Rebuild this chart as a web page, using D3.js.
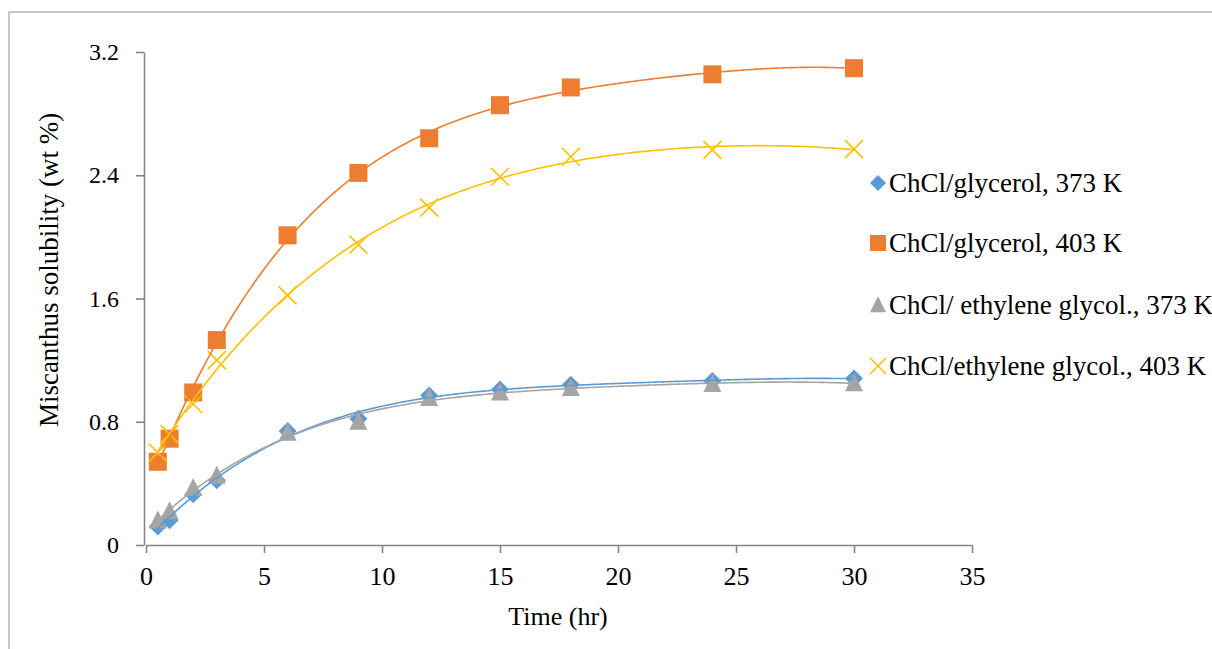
<!DOCTYPE html>
<html>
<head>
<meta charset="utf-8">
<script src="https://cdn.jsdelivr.net/npm/d3@7"></script>
<style>
  body { margin: 0; background: #fff; }
</style>
</head>
<body>
<div id="chart"></div>
<script>
// sampling times (hr)
const times = [0.5, 1, 2, 3, 6, 9, 12, 15, 18, 24, 30];

// solubility (wt %)
const glycerol373 = [0.12, 0.16, 0.33, 0.42, 0.74, 0.82, 0.97, 1.01, 1.04, 1.065, 1.08];
const glycerol403 = [0.54, 0.69, 0.99, 1.33, 2.01, 2.415, 2.64, 2.855, 2.97, 3.055, 3.095];
const ethylene373 = [0.16, 0.22, 0.37, 0.45, 0.73, 0.80, 0.955, 0.99, 1.02, 1.045, 1.05];
const ethylene403 = [0.60, 0.72, 0.915, 1.20, 1.62, 1.95, 2.19, 2.39, 2.52, 2.565, 2.57];

const seriesNames = [
  "ChCl/glycerol, 373 K",
  "ChCl/glycerol, 403 K",
  "ChCl/ ethylene glycol., 373 K",
  "ChCl/ethylene glycol., 403 K"
];
const xTicks = [0, 5, 10, 15, 20, 25, 30, 35];
const yTicks = [0, 0.8, 1.6, 2.4, 3.2];

const series = [
  {name: seriesNames[0], values: glycerol373, color: "#5B9BD5", shape: "diamond"},
  {name: seriesNames[1], values: glycerol403, color: "#ED7D31", shape: "square"},
  {name: seriesNames[2], values: ethylene373, color: "#A5A5A5", shape: "triangle"},
  {name: seriesNames[3], values: ethylene403, color: "#FFC000", shape: "cross"}
];

const width = 1212;
const height = 649;
const serif = "'Liberation Serif', 'Times New Roman', serif";

const svg = d3.select("#chart")
  .append("svg")
  .attr("width", width)
  .attr("height", height)
  .attr("font-family", serif);

// outer frame (right/bottom edges fall outside the picture)
svg.append("rect")
  .attr("x", 9).attr("y", 12)
  .attr("width", 1240).attr("height", 700)
  .attr("fill", "none")
  .attr("stroke", "#ababab")
  .attr("stroke-width", 1.3);

const x = d3.scaleLinear().domain([0, 35]).range([146, 972]);
const y = d3.scaleLinear().domain([0, 3.2]).range([545, 52]);

// polynomial trendline, least squares like Excel does
function polyfit(xs, ys, order) {
  const n = order + 1;
  const A = [];
  for (let i = 0; i < n; i++) {
    A.push(new Array(n + 1).fill(0));
  }
  xs.forEach((xv, k) => {
    for (let i = 0; i < n; i++) {
      for (let j = 0; j < n; j++) A[i][j] += Math.pow(xv, i + j);
      A[i][n] += ys[k] * Math.pow(xv, i);
    }
  });
  for (let c = 0; c < n; c++) {
    let p = c;
    for (let r = c + 1; r < n; r++) if (Math.abs(A[r][c]) > Math.abs(A[p][c])) p = r;
    [A[c], A[p]] = [A[p], A[c]];
    for (let r = 0; r < n; r++) {
      if (r === c) continue;
      const f = A[r][c] / A[c][c];
      for (let k = c; k <= n; k++) A[r][k] -= f * A[c][k];
    }
  }
  const coef = A.map((row, i) => row[n] / row[i]);
  return t => coef.reduce((s, a, i) => s + a * Math.pow(t, i), 0);
}

// axes
const xAxis = svg.append("g")
  .attr("transform", `translate(0,${y(0)})`)
  .call(d3.axisBottom(x).tickValues(xTicks).tickSize(8).tickPadding(14).tickSizeOuter(0))
  .attr("font-family", serif).attr("font-size", 26);
xAxis.select(".domain").attr("stroke", "#868686").attr("stroke-width", 1.6);
xAxis.selectAll(".tick line").attr("stroke", "#868686").attr("stroke-width", 1.6);
xAxis.selectAll(".tick text").attr("fill", "#000");

const yAxis = svg.append("g")
  .attr("transform", `translate(${x(0) - 2},0)`)
  .call(d3.axisLeft(y).tickValues(yTicks).tickFormat(d => d === 0 ? "0" : d3.format(".1f")(d))
    .tickSize(8).tickPadding(17).tickSizeOuter(0))
  .attr("font-family", serif).attr("font-size", 24);
yAxis.select(".domain").attr("stroke", "#868686").attr("stroke-width", 1.6);
yAxis.selectAll(".tick line").attr("stroke", "#868686").attr("stroke-width", 1.6);
yAxis.selectAll(".tick text").attr("fill", "#000");

// axis titles
svg.append("text")
  .attr("x", 558).attr("y", 625)
  .attr("text-anchor", "middle")
  .attr("font-size", 26)
  .text("Time (hr)");

svg.append("text")
  .attr("transform", "translate(58,270) rotate(-90)")
  .attr("text-anchor", "middle")
  .attr("font-size", 27)
  .text("Miscanthus solubility (wt %)");

// marker shapes
function marker(g, shape, color, s) {
  if (shape === "diamond") {
    g.append("path").attr("d", `M0,${-s / 2}L${s / 2},0L0,${s / 2}L${-s / 2},0Z`).attr("fill", color);
  } else if (shape === "square") {
    g.append("rect").attr("x", -s / 2).attr("y", -s / 2).attr("width", s).attr("height", s).attr("fill", color);
  } else if (shape === "triangle") {
    g.append("path").attr("d", `M0,${-s * 0.55}L${s / 2},${s * 0.45}L${-s / 2},${s * 0.45}Z`).attr("fill", color);
  } else {
    const h = s / 2;
    g.append("path").attr("d", `M${-h},${-h}L${h},${h}M${h},${-h}L${-h},${h}`)
      .attr("stroke", color).attr("stroke-width", 1.6).attr("fill", "none");
  }
}

series.forEach(s => {
  const g = svg.append("g");
  s.values.forEach((v, i) => {
    const m = g.append("g").attr("transform", `translate(${x(times[i])},${y(v)})`);
    marker(m, s.shape, s.color, 18);
  });
});

// trendlines on top of markers
const line = d3.line().x(d => x(d[0])).y(d => y(d[1]));
series.forEach(s => {
  const f = polyfit(times, s.values, 4);
  const pts = d3.range(0.5, 30.001, 0.1).map(t => [t, f(t)]);
  svg.append("path")
    .attr("d", line(pts))
    .attr("fill", "none")
    .attr("stroke", s.color)
    .attr("stroke-width", 1.6);
});

// legend
const legend = svg.append("g");
series.forEach((s, i) => {
  const yy = [183, 243, 305, 366][i];
  const m = legend.append("g").attr("transform", `translate(878,${yy})`);
  marker(m, s.shape, s.color, 16);
  legend.append("text")
    .attr("x", 889).attr("y", yy + 9)
    .attr("font-size", 27)
    .text(s.name);
});
</script>
</body>
</html>
